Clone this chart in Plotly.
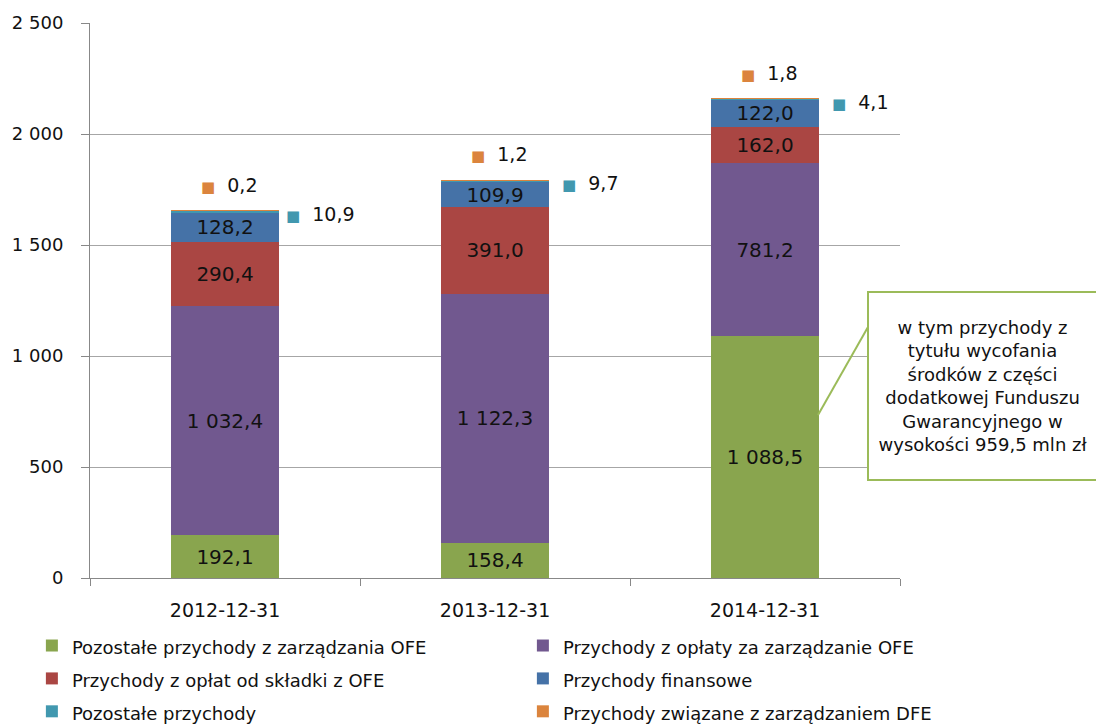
import plotly.graph_objects as go

categories = ["2012-12-31", "2013-12-31", "2014-12-31"]
series_names = [
    "Pozostałe przychody z zarządzania OFE",
    "Przychody z opłaty za zarządzanie OFE",
    "Przychody z opłat od składki z OFE",
    "Przychody finansowe",
    "Pozostałe przychody",
    "Przychody związane z zarządzaniem DFE",
]
pozostale_ofe = [192.1, 158.4, 1088.5]
oplata_zarzadzanie = [1032.4, 1122.3, 781.2]
oplaty_skladka = [290.4, 391.0, 162.0]
finansowe = [128.2, 109.9, 122.0]
pozostale = [10.9, 9.7, 4.1]
dfe = [0.2, 1.2, 1.8]
y_ticks = [0, 500, 1000, 1500, 2000, 2500]
callout_text = ("w tym przychody z<br>tytułu wycofania<br>środków z części<br>"
                "dodatkowej Funduszu<br>Gwarancyjnego w<br>wysokości 959,5 mln zł")

colors = ["#89A54E", "#71588F", "#AA4643", "#4572A7", "#4198AF", "#DB843D"]
FONT = "DejaVu Sans"

fig = go.Figure()
all_series = [pozostale_ofe, oplata_zarzadzanie, oplaty_skladka, finansowe, pozostale, dfe]
for i, (name, vals) in enumerate(zip(series_names, all_series)):
    inside = i < 4
    fig.add_trace(go.Bar(
        name=f"<span style='font-size:18px'>{name}</span>", x=categories, y=vals,
        marker=dict(color=colors[i], line=dict(width=0)),
        width=0.4,
        texttemplate="%{y:,.1f}" if inside else None,
        textposition="inside" if inside else "none",
        insidetextanchor="middle",
        textangle=0,
        textfont=dict(family=FONT, size=20, color="#111111"),
        hoverinfo="skip",
    ))

totals = [sum(s[k] for s in all_series) for k in range(len(categories))]

def fmt(v):
    return f"{v:.1f}".replace(".", ",")

annotations = []
for k, cat in enumerate(categories):
    annotations.append(dict(
        x=cat, y=totals[k], xref="x", yref="y",
        text=f"<span style='color:{colors[5]};font-size:15px'>■</span>  {fmt(dfe[k])}",
        showarrow=False, xshift=4, yshift=26,
        font=dict(family=FONT, size=19, color="#111111"),
    ))
    annotations.append(dict(
        x=cat, y=totals[k], xref="x", yref="y",
        text=f"<span style='color:{colors[4]};font-size:15px'>■</span>  {fmt(pozostale[k])}",
        showarrow=False, xshift=95, yshift=-3,
        font=dict(family=FONT, size=19, color="#111111"),
    ))

annotations.append(dict(
    x=1.1025, y=0.346, xref="paper", yref="paper",
    text=callout_text, showarrow=False,
    xanchor="center", yanchor="middle",
    width=226, height=184, borderpad=1,
    bordercolor="#9BBB59", borderwidth=2, bgcolor="white",
    font=dict(family=FONT, size=18, color="#111111"),
    align="center",
))

fig.add_shape(type="line", xref="paper", yref="paper",
              x0=0.9605, y0=0.4523, x1=0.8988, y1=0.2937,
              line=dict(color="#9BBB59", width=2))

fig.update_layout(
    barmode="stack",
    width=1104, height=726,
    margin=dict(l=82, r=212, t=15, b=156, autoexpand=False),
    paper_bgcolor="white", plot_bgcolor="white",
    separators=", ",
    font=dict(family=FONT, size=18, color="#111111"),
    uniformtext=dict(minsize=20, mode="show"),
    annotations=annotations,
    showlegend=True,
    legend=dict(
        orientation="h", x=1.1406, y=-0.083, xanchor="right", yanchor="top",
        entrywidth=446, entrywidthmode="pixels",
        font=dict(family=FONT, size=23, color="#111111"),
        traceorder="normal", itemclick=False, itemdoubleclick=False,
        bgcolor="rgba(0,0,0,0)",
    ),
    xaxis=dict(
        type="category", showline=True, linecolor="#888888", linewidth=1,
        ticks="outside", tickson="boundaries", ticklen=7, tickcolor="#888888",
        tickfont=dict(family=FONT, size=19, color="#111111"),
        showgrid=False, ticklabelstandoff=15,
    ),
    yaxis=dict(
        range=[0, 2500], tickvals=y_ticks, tickformat=",d",
        showline=True, linecolor="#888888", linewidth=1,
        ticks="outside", ticklen=8, tickcolor="#888888",
        showgrid=True, gridcolor="#A6A6A6", gridwidth=1,
        zeroline=False,
        tickfont=dict(family=FONT, size=18, color="#111111"),
        ticklabelstandoff=14,
    ),
)

fig.write_html("out.html")
